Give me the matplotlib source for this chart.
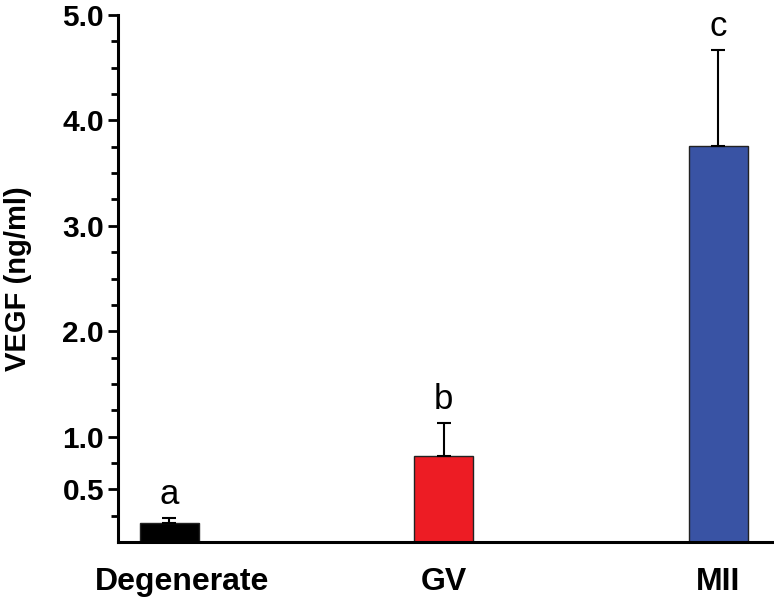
import matplotlib
matplotlib.use("Agg")
import matplotlib.pyplot as plt
import matplotlib.transforms as mtransforms
from matplotlib.ticker import FixedLocator

categories = ["Degenerate", "GV", "MII"]
means = [0.18, 0.82, 3.76]
errors = [0.05, 0.31, 0.91]
letters = ["a", "b", "c"]
colors = ["#000000", "#ED1C24", "#3953A4"]
yticks = [0.5, 1.0, 2.0, 3.0, 4.0, 5.0]
ytick_labels = ["0.5", "1.0", "2.0", "3.0", "4.0", "5.0"]

plt.rcParams['font.family'] = ['Liberation Sans', 'DejaVu Sans']

fig = plt.figure(figsize=(7.74, 6.0), dpi=100)
ax = fig.add_axes([118/774, 58/600, 1 - 118/774, (542-15)/600])

x = list(range(len(categories)))
ax.bar(x, means, width=0.215, color=colors, edgecolor="#222222", linewidth=1.0, zorder=2)
ax.errorbar(x, means, yerr=[[0]*len(errors), errors], fmt="none", ecolor="black",
            elinewidth=1.5, capsize=5, capthick=1.5, zorder=3)
for xi, m, e, l in zip(x, means, errors, letters):
    ax.annotate(l, (xi, m + e), xytext=(0, 5), textcoords="offset points",
                ha="center", va="bottom", fontsize=25)

ax.set_xlim(-0.186, 2.204)
ax.set_ylim(0, 5.0)
ax.yaxis.set_major_locator(FixedLocator(yticks))
ax.set_yticklabels(ytick_labels)
ax.yaxis.set_minor_locator(FixedLocator([0.25, 0.75, 1.25, 1.5, 1.75, 2.25, 2.5, 2.75,
                                         3.25, 3.5, 3.75, 4.25, 4.5, 4.75]))
ax.set_xticks(x)
ax.set_xticklabels(categories)

for s in ["top", "right"]:
    ax.spines[s].set_visible(False)
for s in ["left", "bottom"]:
    ax.spines[s].set_linewidth(2.2)

ax.tick_params(axis="y", which="major", length=7, width=2, labelsize=21.5, pad=3)
ax.tick_params(axis="y", which="minor", length=5, width=2)
ax.tick_params(axis="x", length=0, labelsize=23, pad=18)
for lab in ax.get_yticklabels() + ax.get_xticklabels():
    lab.set_fontweight("bold")

# the first category label sits slightly right of its bar in the reference
first = ax.get_xticklabels()[0]
first.set_transform(first.get_transform() + mtransforms.ScaledTranslation(0.13, 0, fig.dpi_scale_trans))

ax.set_ylabel("VEGF (ng/ml)", fontsize=21, fontweight="bold", labelpad=22)

fig.savefig("out.png", dpi=100)
